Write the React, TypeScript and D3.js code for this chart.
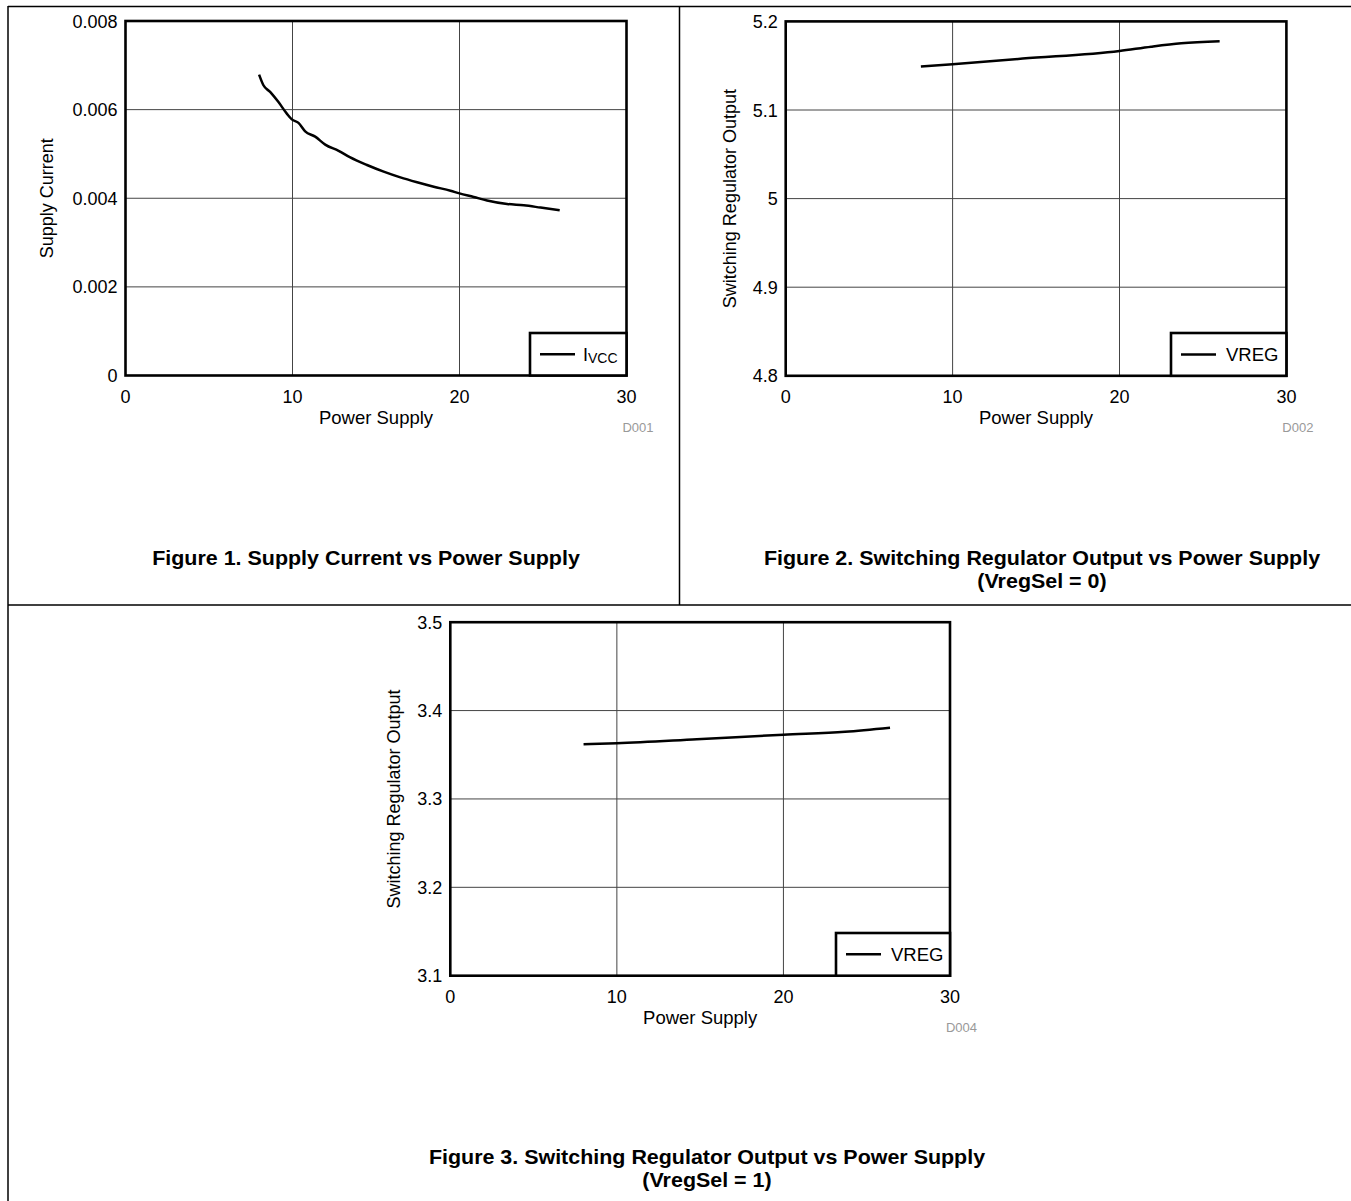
import React from "react";
import * as d3 from "d3";

// ---------- data ----------
const xTicks = [0, 10, 20, 30];

const icc_x = [8.0, 8.26, 8.66, 9.16, 9.66, 9.96, 10.36, 10.76, 11.36, 11.96, 12.76, 13.46, 14.46, 15.46, 16.46, 17.46, 18.46, 19.46, 20.0, 20.85, 21.65, 22.85, 23.85, 24.85, 26.0];
const icc_y = [0.00679, 0.00655, 0.0064, 0.00617, 0.00591, 0.00578, 0.0057, 0.00551, 0.00539, 0.00521, 0.00507, 0.00492, 0.00475, 0.0046, 0.00447, 0.00436, 0.00426, 0.00417, 0.00411, 0.00403, 0.00395, 0.00387, 0.00384, 0.00379, 0.00373];
const icc_yTicks = [0, 0.002, 0.004, 0.006, 0.008];
const icc_yTickLabels = ["0", "0.002", "0.004", "0.006", "0.008"];

const vreg0_x = [8.1, 10, 14.2, 20, 21.9, 23.7, 26.0];
const vreg0_y = [5.149, 5.1516, 5.158, 5.1666, 5.1715, 5.1753, 5.1775];
const vreg0_yTicks = [4.8, 4.9, 5.0, 5.1, 5.2];
const vreg0_yTickLabels = ["4.8", "4.9", "5", "5.1", "5.2"];

const vreg1_x = [8.0, 10, 14.8, 20, 23.7, 26.4];
const vreg1_y = [3.362, 3.363, 3.3675, 3.3727, 3.376, 3.3806];
const vreg1_yTicks = [3.1, 3.2, 3.3, 3.4, 3.5];
const vreg1_yTickLabels = ["3.1", "3.2", "3.3", "3.4", "3.5"];

const captions = [
  ["Figure 1. Supply Current vs Power Supply"],
  ["Figure 2. Switching Regulator Output vs Power Supply", "(VregSel = 0)"],
  ["Figure 3. Switching Regulator Output vs Power Supply", "(VregSel = 1)"],
];

const FONT = "'Liberation Sans', Arial, Helvetica, sans-serif";

type Panel = {
  xs: number[];
  ys: number[];
  yTicks: number[];
  yTickLabels: string[];
  yTitle: string;
  legend: "ivcc" | "vreg";
  code: string;
  left: number;
  right: number;
  top: number;
  bottom: number;
  legendLeft: number;
  legendTop: number;
  yTitleX: number;
  capX: number;
  capY: number;
  caption: string[];
};

const panels: Panel[] = [
  {
    xs: icc_x, ys: icc_y, yTicks: icc_yTicks, yTickLabels: icc_yTickLabels,
    yTitle: "Supply Current", legend: "ivcc", code: "D001",
    left: 125.5, right: 626.5, top: 21, bottom: 375.5,
    legendLeft: 530, legendTop: 333, yTitleX: 53,
    capX: 366, capY: 565, caption: captions[0],
  },
  {
    xs: vreg0_x, ys: vreg0_y, yTicks: vreg0_yTicks, yTickLabels: vreg0_yTickLabels,
    yTitle: "Switching Regulator Output", legend: "vreg", code: "D002",
    left: 785.7, right: 1286.4, top: 21.4, bottom: 375.8,
    legendLeft: 1171, legendTop: 333, yTitleX: 736,
    capX: 1042, capY: 565, caption: captions[1],
  },
  {
    xs: vreg1_x, ys: vreg1_y, yTicks: vreg1_yTicks, yTickLabels: vreg1_yTickLabels,
    yTitle: "Switching Regulator Output", legend: "vreg", code: "D004",
    left: 450.3, right: 950, top: 622.2, bottom: 975.7,
    legendLeft: 836, legendTop: 933, yTitleX: 400,
    capX: 707, capY: 1164, caption: captions[2],
  },
];

function Chart({ p }: { p: Panel }) {
  const x = d3.scaleLinear().domain([0, 30]).range([p.left, p.right]);
  const y = d3
    .scaleLinear()
    .domain([p.yTicks[0], p.yTicks[p.yTicks.length - 1]])
    .range([p.bottom, p.top]);
  const pts = p.xs.map((v, i) => [v, p.ys[i]] as [number, number]);
  const line = d3
    .line<[number, number]>()
    .x((d) => x(d[0]))
    .y((d) => y(d[1]))
    .curve(d3.curveMonotoneX);
  const midY = (p.top + p.bottom) / 2;
  const midX = (p.left + p.right) / 2;
  const legY = (p.legendTop + p.bottom) / 2;
  return (
    <g>
      {xTicks.slice(1, -1).map((t) => (
        <line key={"gx" + t} x1={x(t)} x2={x(t)} y1={p.top} y2={p.bottom} stroke="#444" strokeWidth={1} />
      ))}
      {p.yTicks.slice(1, -1).map((t) => (
        <line key={"gy" + t} x1={p.left} x2={p.right} y1={y(t)} y2={y(t)} stroke="#444" strokeWidth={1} />
      ))}
      <path d={line(pts) || ""} fill="none" stroke="#000" strokeWidth={2.5} strokeLinejoin="round" />
      <rect x={p.left} y={p.top} width={p.right - p.left} height={p.bottom - p.top} fill="none" stroke="#000" strokeWidth={2.6} />
      <rect x={p.legendLeft} y={p.legendTop} width={p.right - p.legendLeft} height={p.bottom - p.legendTop} fill="#fff" stroke="#000" strokeWidth={2.6} />
      <line x1={p.legendLeft + 10} x2={p.legendLeft + 45} y1={legY} y2={legY} stroke="#000" strokeWidth={2.5} />
      {p.legend === "ivcc" ? (
        <text x={p.legendLeft + 53} y={legY + 7} fontFamily={FONT} fontSize={18} fill="#000">
          I<tspan fontSize={14} dy={2}>VCC</tspan>
        </text>
      ) : (
        <text x={p.legendLeft + 55} y={legY + 7} fontFamily={FONT} fontSize={18.5} fill="#000">
          VREG
        </text>
      )}
      {xTicks.map((t) => (
        <text key={"xt" + t} x={x(t)} y={p.bottom + 27} textAnchor="middle" fontFamily={FONT} fontSize={18} fill="#000">
          {t}
        </text>
      ))}
      {p.yTicks.map((t, i) => (
        <text key={"yt" + t} x={p.left - 8} y={y(t) + 6.5} textAnchor="end" fontFamily={FONT} fontSize={18} fill="#000">
          {p.yTickLabels[i]}
        </text>
      ))}
      <text x={midX} y={p.bottom + 48} textAnchor="middle" fontFamily={FONT} fontSize={18.5} fill="#000">
        Power Supply
      </text>
      <text
        transform={`translate(${p.yTitleX},${midY}) rotate(-90)`}
        textAnchor="middle"
        fontFamily={FONT}
        fontSize={18}
        fill="#000"
      >
        {p.yTitle}
      </text>
      <text x={p.right + 27} y={p.bottom + 56} textAnchor="end" fontFamily={FONT} fontSize={13} fill="#999">
        {p.code}
      </text>
      {p.caption.map((c, i) => (
        <text
          key={"cap" + i}
          transform={`translate(${p.capX},${p.capY + i * 23}) scale(1.1,1)`}
          textAnchor="middle"
          fontFamily={FONT}
          fontSize={19.5}
          fontWeight="bold"
          fill="#000"
        >
          {c}
        </text>
      ))}
    </g>
  );
}

export default function App() {
  return (
    <svg
      width={1351}
      height={1201}
      style={{ position: "absolute", left: 0, top: 0, background: "#fff" }}
    >
      <rect x={0} y={0} width={1351} height={1201} fill="#fff" />
      <line x1={8} x2={1351} y1={6.5} y2={6.5} stroke="#000" strokeWidth={1.5} />
      <line x1={8} x2={8} y1={6} y2={1201} stroke="#000" strokeWidth={1.5} />
      <line x1={679.5} x2={679.5} y1={6} y2={605} stroke="#000" strokeWidth={1.5} />
      <line x1={8} x2={1351} y1={605} y2={605} stroke="#000" strokeWidth={1.5} />
      {panels.map((p, i) => (
        <Chart key={i} p={p} />
      ))}
    </svg>
  );
}
